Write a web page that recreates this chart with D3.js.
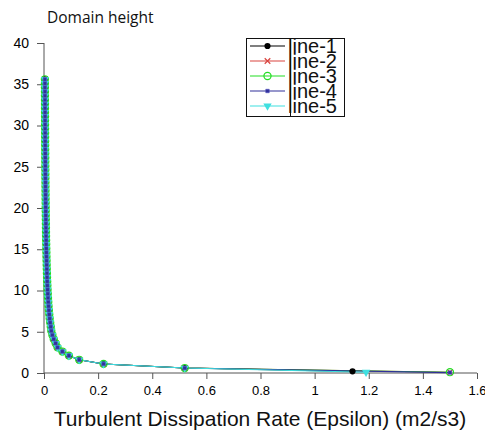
<!DOCTYPE html>
<html>
<head>
<meta charset="utf-8">
<script src="https://cdn.jsdelivr.net/npm/d3@7"></script>
<style>
  html, body { margin: 0; padding: 0; background: #fff; }
  svg { display: block; }
  text { font-family: "Liberation Sans", Arial, sans-serif; }
  text.title { font-family: "Open Sans", "Noto Sans", sans-serif; }
</style>
</head>
<body>
<svg id="chart" width="485" height="433"></svg>
<script>
// Heights above ground (m) of the sampled profile, lowest level first
const heights = [
  0.1, 0.6, 1.1, 1.6, 2.1, 2.6, 3.1, 3.6, 4.1, 4.6, 5.1, 5.6, 6.1, 6.6, 7.1, 7.6,
  8.1, 8.6, 9.1, 9.6, 10.1, 10.6, 11.1, 11.6, 12.1, 12.6, 13.1, 13.6, 14.1, 14.6,
  15.1, 15.6, 16.1, 16.6, 17.1, 17.6, 18.1, 18.6, 19.1, 19.6, 20.1, 20.6, 21.1,
  21.6, 22.1, 22.6, 23.1, 23.6, 24.1, 24.6, 25.1, 25.6, 26.1, 26.6, 27.1, 27.6,
  28.1, 28.6, 29.1, 29.6, 30.1, 30.6, 31.1, 31.6, 32.1, 32.6, 33.1, 33.6, 34.1,
  34.6, 35.1, 35.6, 36.1
];

// Dissipation rate shared by all runs above the first level (from 0.6 m up)
const epsilonAloft = [
  0.52, 0.22, 0.13, 0.092, 0.068, 0.05, 0.043, 0.036, 0.031, 0.027, 0.025, 0.023,
  0.021, 0.0195, 0.018, 0.0168, 0.0158, 0.0148, 0.014, 0.0132, 0.0125, 0.0119,
  0.0113, 0.0108, 0.0103, 0.0099, 0.0095, 0.0091, 0.0088, 0.0085, 0.0082, 0.0079,
  0.0076, 0.0074, 0.0072, 0.007, 0.0068, 0.0066, 0.0064, 0.0062, 0.0061, 0.0059,
  0.0058, 0.0056, 0.0055, 0.0054, 0.0052, 0.0051, 0.005, 0.0049, 0.0048, 0.0047,
  0.0046, 0.0045, 0.0044, 0.0043, 0.0042, 0.0042, 0.0041, 0.004, 0.0039, 0.0039,
  0.0038, 0.0037, 0.0037, 0.0036, 0.0035, 0.0035, 0.0034, 0.0034, 0.0033
];

// Near-ground value of each run
const seriesNames = ["line-1", "line-2", "line-3", "line-4", "line-5"];
const groundEpsilon = [1.14, 1.5, 1.5, 1.5, 1.19];
const groundHeight = [0.2, 0.1, 0.1, 0.05, 0.1];

const xTicks = [0, 0.2, 0.4, 0.6, 0.8, 1, 1.2, 1.4, 1.6];
const yTicks = [0, 5, 10, 15, 20, 25, 30, 35, 40];

const colors = ["#000000", "#d9443f", "#22dd22", "#30309a", "#3fe0e0"];

const series = seriesNames.map((name, i) => ({
  name,
  color: colors[i],
  points: [{ eps: groundEpsilon[i], h: groundHeight[i] }].concat(
    epsilonAloft.map((e, k) => ({ eps: e, h: heights[k + 1] })))
}));

const svg = d3.select("#chart");
const x = d3.scaleLinear().domain([0, 1.6]).range([44, 477]);
const y = d3.scaleLinear().domain([0, 40]).range([373, 43]);

// Axes: major ticks with labels, minor ticks in between
const axisColor = "#555";
const gx = svg.append("g").attr("transform", `translate(0,${y(0)})`);
gx.call(d3.axisBottom(x).tickValues(d3.range(0.1, 1.6, 0.2)).tickSize(4).tickFormat(""));
gx.call(d3.axisBottom(x).tickValues(xTicks).tickSize(6).tickPadding(7)
  .tickFormat(d => d3.format("~g")(d)));
gx.selectAll("path.domain").attr("stroke", axisColor).attr("d", `M${x(0)},0H${x(1.6)}`);
gx.selectAll(".tick line").attr("stroke", axisColor);
gx.selectAll("text").attr("font-size", 13).attr("fill", "#000");

const gy = svg.append("g").attr("transform", `translate(${x(0)},0)`);
gy.call(d3.axisLeft(y).tickValues(d3.range(2.5, 40, 5)).tickSize(4).tickFormat(""));
gy.call(d3.axisLeft(y).tickValues(yTicks).tickSize(7).tickPadding(8));
gy.selectAll("path.domain").attr("stroke", axisColor).attr("d", `M0,${y(0)}V${y(40)}`);
gy.selectAll(".tick line").attr("stroke", axisColor);
gy.selectAll("text").attr("font-size", 14).attr("fill", "#000");

// Marker shapes per run
const symbolPath = [
  d3.symbol(d3.symbolCircle, 30)(),
  d3.symbol(d3.symbolTimes, 22)(),
  d3.symbol(d3.symbolCircle, 40)(),
  d3.symbol(d3.symbolSquare, 12)(),
  d3.symbol(d3.symbolTriangle, 30)()
];
function drawMarker(g, i, cx, cy) {
  const p = g.append("path").attr("d", symbolPath[i])
    .attr("transform", `translate(${cx},${cy})` + (i === 4 ? " rotate(180)" : ""));
  if (i === 0) p.attr("fill", colors[0]);
  else if (i === 1) p.attr("fill", "none").attr("stroke", colors[1]).attr("stroke-width", 1.2);
  else if (i === 2) p.attr("fill", "none").attr("stroke", colors[2]).attr("stroke-width", 1.2);
  else if (i === 3) p.attr("fill", colors[3]).attr("stroke", "#5050c0").attr("stroke-width", 0.6);
  else p.attr("fill", colors[4]);
}

const line = d3.line().x(d => x(d.eps)).y(d => y(d.h));
const plot = svg.append("g");
series.forEach(s => {
  plot.append("path").datum(s.points).attr("d", line)
    .attr("fill", "none").attr("stroke", s.color).attr("stroke-width", 1.1);
});
// Markers: the small squares of line-4 are kept on top of the cyan triangles
[0, 1, 2, 4, 3].forEach(i => {
  const g = plot.append("g");
  series[i].points.forEach(p => drawMarker(g, i, x(p.eps), y(p.h)));
});

// Title
svg.append("text").attr("class", "title").attr("x", 47).attr("y", 23)
  .attr("font-size", 15.5).attr("fill", "#111").text("Domain height");

// X axis title
svg.append("text").attr("x", 260).attr("y", 426).attr("text-anchor", "middle")
  .attr("font-size", 21).attr("fill", "#111")
  .text("Turbulent Dissipation Rate (Epsilon) (m2/s3)");

// Legend
const lg = svg.append("g");
lg.append("rect").attr("x", 246.5).attr("y", 38.5).attr("width", 98).attr("height", 78)
  .attr("fill", "#fff").attr("stroke", "#111");
lg.append("line").attr("x1", 290.5).attr("x2", 290.5).attr("y1", 38.5).attr("y2", 116.5)
  .attr("stroke", "#111");
series.forEach((s, i) => {
  const cy = 46 + i * 15;
  lg.append("line").attr("x1", 250).attr("x2", 285).attr("y1", cy).attr("y2", cy)
    .attr("stroke", s.color).attr("stroke-width", 1.1);
  drawMarker(lg, i, 267.5, cy);
  lg.append("text").attr("x", 288).attr("y", cy + 7).attr("font-size", 20)
    .attr("fill", "#111").text(s.name);
});
</script>
</body>
</html>
